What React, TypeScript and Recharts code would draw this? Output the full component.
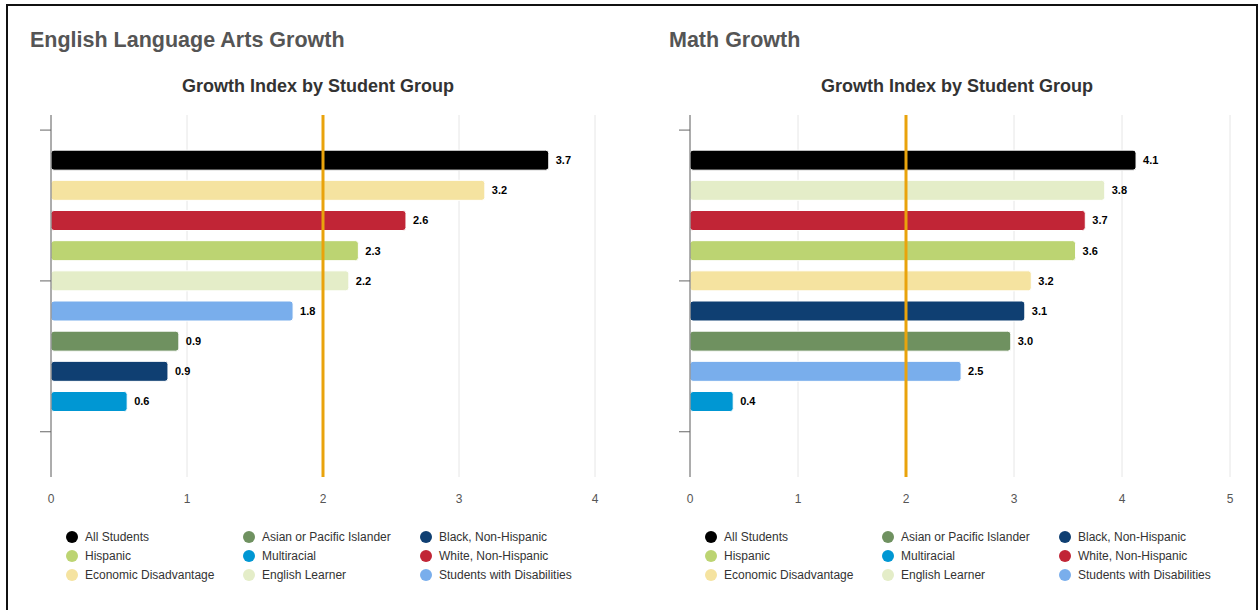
import React from 'react';
import { BarChart, Bar, XAxis, YAxis, CartesianGrid, ReferenceLine, Cell, LabelList } from 'recharts';

// Legend groups (row-major order as shown in legend) and their colours
const groupNames = [
  'All Students',
  'Asian or Pacific Islander',
  'Black, Non-Hispanic',
  'Hispanic',
  'Multiracial',
  'White, Non-Hispanic',
  'Economic Disadvantage',
  'English Learner',
  'Students with Disabilities',
];
const groupColors = ['#000000', '#6f9160', '#0f3f72', '#bcd472', '#0097d3', '#c12536', '#f5e3a0', '#e4edc8', '#79aeec'];

// ELA chart (bar order top to bottom)
const elaGroups = [
  'All Students',
  'Economic Disadvantage',
  'White, Non-Hispanic',
  'Hispanic',
  'English Learner',
  'Students with Disabilities',
  'Asian or Pacific Islander',
  'Black, Non-Hispanic',
  'Multiracial',
];
const elaValues = [3.66, 3.19, 2.61, 2.26, 2.19, 1.78, 0.94, 0.86, 0.56];
const elaTicks = [0, 1, 2, 3, 4];

// Math chart (bar order top to bottom)
const mathGroups = [
  'All Students',
  'English Learner',
  'White, Non-Hispanic',
  'Hispanic',
  'Economic Disadvantage',
  'Black, Non-Hispanic',
  'Asian or Pacific Islander',
  'Students with Disabilities',
  'Multiracial',
];
const mathValues = [4.13, 3.84, 3.66, 3.57, 3.16, 3.1, 2.97, 2.51, 0.4];
const mathTicks = [0, 1, 2, 3, 4, 5];

const targetValue = 2;

const FONT = '"Liberation Sans", Arial, Helvetica, sans-serif';

const colorOf = (name: string) => groupColors[groupNames.indexOf(name)];

type PanelProps = {
  title: string;
  left: number;
  groups: string[];
  values: number[];
  xTicks: number[];
  marginRight: number;
};

function Panel({ title, left, groups, values, xTicks, marginRight }: PanelProps) {
  const data = groups.map((g, i) => ({ idx: i, name: g, value: values[i] }));
  const n = groups.length;
  const yTicks: number[] = [];
  for (let t = -1; t <= n; t += 5) yTicks.push(t);
  const chartW = 620;
  return (
    <>
      <div
        style={{
          position: 'absolute',
          left: left + 30,
          top: 28,
          fontFamily: FONT,
          fontWeight: 'bold',
          fontSize: 21.5,
          color: '#555555',
          whiteSpace: 'nowrap',
        }}
      >
        {title}
      </div>
      <div
        style={{
          position: 'absolute',
          left: left + 318 - 200,
          width: 400,
          top: 76,
          textAlign: 'center',
          fontFamily: FONT,
          fontWeight: 'bold',
          fontSize: 18,
          color: '#333333',
        }}
      >
        Growth Index by Student Group
      </div>
      <div style={{ position: 'absolute', left, top: 100 }}>
        <BarChart
          width={chartW}
          height={410}
          data={data}
          layout="vertical"
          margin={{ top: 15, right: marginRight, left: 40, bottom: 3 }}
        >
          <CartesianGrid horizontal={false} stroke="#e6e6e6" />
          <XAxis
            type="number"
            dataKey="value"
            domain={[xTicks[0], xTicks[xTicks.length - 1]]}
            ticks={xTicks}
            interval={0}
            axisLine={false}
            tickLine={false}
            tickSize={0}
            tickMargin={17}
            height={30}
            tick={{ fill: '#555555', fontSize: 12, fontFamily: FONT }}
          />
          <YAxis
            type="number"
            dataKey="idx"
            domain={[-1.5, n + 1.5]}
            ticks={yTicks}
            interval={0}
            width={11}
            tickSize={11}
            axisLine={{ stroke: '#666666' }}
            tickLine={{ stroke: '#666666' }}
            tickFormatter={() => ''}
          />
          <Bar dataKey="value" barSize={20} radius={3} stroke="#ffffff" strokeWidth={1} isAnimationActive={false}>
            {data.map((d) => (
              <Cell key={d.name} fill={colorOf(d.name)} />
            ))}
            <LabelList
              dataKey="value"
              position="right"
              offset={7}
              formatter={(v: any) => Number(v).toFixed(1)}
              fill="#000000"
              fontSize={11}
              fontWeight="bold"
              fontFamily={FONT}
            />
          </Bar>
          <ReferenceLine x={targetValue} stroke="#e9a30c" strokeWidth={3} />
        </BarChart>
      </div>
      {groupNames.map((g, i) => {
        const col = i % 3;
        const row = Math.floor(i / 3);
        return (
          <div
            key={g}
            style={{
              position: 'absolute',
              left: left + 66 + col * 177,
              top: 530 + row * 19,
              display: 'flex',
              alignItems: 'center',
              fontFamily: FONT,
              fontSize: 12,
              color: '#333333',
              whiteSpace: 'nowrap',
              height: 14,
            }}
          >
            <span
              style={{
                display: 'inline-block',
                width: 12,
                height: 12,
                borderRadius: 6,
                background: groupColors[i],
                marginRight: 7,
              }}
            />
            {g}
          </div>
        );
      })}
    </>
  );
}

export default function App() {
  return (
    <div
      style={{
        position: 'absolute',
        left: 0,
        top: 0,
        width: 1259,
        height: 610,
        overflow: 'hidden',
        background: '#ffffff',
      }}
    >
      <div
        style={{
          position: 'absolute',
          left: 6,
          top: 4,
          width: 1252,
          height: 606,
          boxSizing: 'border-box',
          borderTop: '2px solid #111',
          borderLeft: '2px solid #111',
          borderRight: '2px solid #111',
        }}
      />
      <Panel title="English Language Arts Growth" left={0} groups={elaGroups} values={elaValues} xTicks={elaTicks} marginRight={25} />
      <Panel title="Math Growth" left={639} groups={mathGroups} values={mathValues} xTicks={mathTicks} marginRight={29} />
    </div>
  );
}
